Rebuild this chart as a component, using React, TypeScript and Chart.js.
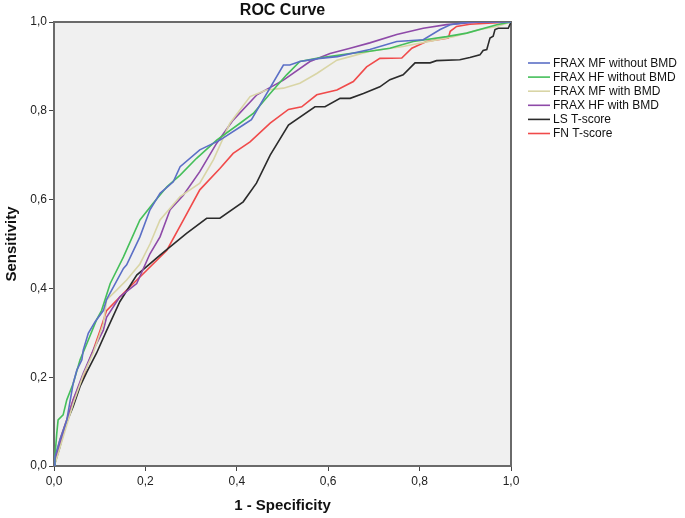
import React, { useEffect, useRef } from "react";
import { Chart, registerables } from "chart.js";

Chart.register(...registerables);

const SERIES_NAMES = [
  "FRAX MF without BMD",
  "FRAX HF without BMD",
  "FRAX MF with BMD",
  "FRAX HF with BMD",
  "LS T-score",
  "FN T-score",
];
const SERIES_COLORS = ["#5b6fc6", "#45bf5a", "#d9d5a6", "#8e4aa8", "#2b2b2b", "#f04a4a"];
const TICK_LABELS = ["0,0", "0,2", "0,4", "0,6", "0,8", "1,0"];

const mfNoBmdX = [0, 0.002, 0.013, 0.028, 0.042, 0.05, 0.061, 0.064, 0.075, 0.09, 0.108, 0.115, 0.152, 0.159, 0.188, 0.21, 0.232, 0.261, 0.276, 0.319, 0.363, 0.414, 0.432, 0.502, 0.516, 0.538, 0.582, 0.62, 0.691, 0.75, 0.808, 0.845, 0.867, 0.91, 1.0];
const mfNoBmdY = [0, 0.02, 0.059, 0.104, 0.186, 0.216, 0.239, 0.261, 0.299, 0.325, 0.35, 0.375, 0.445, 0.453, 0.516, 0.577, 0.614, 0.64, 0.674, 0.712, 0.734, 0.768, 0.78, 0.903, 0.903, 0.911, 0.918, 0.922, 0.938, 0.956, 0.96, 0.983, 0.994, 1.0, 1.0];

const hfNoBmdX = [0, 0.002, 0.006, 0.009, 0.02, 0.028, 0.042, 0.057, 0.072, 0.093, 0.104, 0.123, 0.152, 0.188, 0.217, 0.247, 0.276, 0.312, 0.356, 0.407, 0.436, 0.473, 0.509, 0.538, 0.575, 0.648, 0.691, 0.735, 0.786, 0.859, 0.903, 0.969, 1.0];
const hfNoBmdY = [0, 0.021, 0.073, 0.104, 0.115, 0.149, 0.186, 0.239, 0.276, 0.329, 0.35, 0.411, 0.471, 0.554, 0.592, 0.629, 0.655, 0.693, 0.734, 0.772, 0.794, 0.839, 0.881, 0.911, 0.918, 0.929, 0.934, 0.941, 0.956, 0.967, 0.975, 0.994, 1.0];

const mfBmdX = [0, 0.004, 0.02, 0.042, 0.064, 0.086, 0.108, 0.115, 0.137, 0.159, 0.188, 0.21, 0.232, 0.276, 0.319, 0.349, 0.385, 0.429, 0.465, 0.502, 0.538, 0.575, 0.619, 0.648, 0.691, 0.764, 0.874, 0.932, 0.969, 1.0];
const mfBmdY = [0, 0.01, 0.065, 0.14, 0.205, 0.255, 0.32, 0.374, 0.396, 0.419, 0.455, 0.5, 0.554, 0.607, 0.637, 0.69, 0.772, 0.832, 0.847, 0.851, 0.862, 0.884, 0.914, 0.922, 0.934, 0.945, 0.967, 0.983, 0.99, 1.0];

const hfBmdX = [0, 0.002, 0.02, 0.042, 0.064, 0.086, 0.108, 0.115, 0.144, 0.181, 0.21, 0.232, 0.254, 0.283, 0.319, 0.356, 0.392, 0.444, 0.502, 0.56, 0.604, 0.648, 0.691, 0.75, 0.808, 0.859, 0.93, 1.0];
const hfBmdY = [0, 0.01, 0.073, 0.149, 0.209, 0.261, 0.306, 0.335, 0.381, 0.411, 0.478, 0.516, 0.577, 0.61, 0.663, 0.727, 0.779, 0.836, 0.869, 0.911, 0.929, 0.941, 0.953, 0.972, 0.986, 0.994, 1.0, 1.0];

const lsX = [0, 0.002, 0.013, 0.024, 0.042, 0.057, 0.072, 0.093, 0.115, 0.144, 0.181, 0.232, 0.29, 0.334, 0.363, 0.414, 0.443, 0.473, 0.513, 0.571, 0.593, 0.626, 0.648, 0.677, 0.713, 0.735, 0.764, 0.79, 0.823, 0.837, 0.888, 0.91, 0.932, 0.939, 0.947, 0.95, 0.954, 0.961, 0.965, 0.972, 0.994, 1.0];
const lsY = [0, 0.006, 0.043, 0.089, 0.134, 0.179, 0.212, 0.254, 0.305, 0.37, 0.43, 0.475, 0.524, 0.558, 0.558, 0.595, 0.637, 0.7, 0.768, 0.809, 0.809, 0.828, 0.828, 0.839, 0.854, 0.87, 0.881, 0.908, 0.908, 0.913, 0.915, 0.92, 0.926, 0.936, 0.938, 0.949, 0.964, 0.968, 0.983, 0.986, 0.986, 1.0];

const fnX = [0, 0.002, 0.013, 0.028, 0.042, 0.061, 0.072, 0.086, 0.101, 0.115, 0.152, 0.203, 0.247, 0.283, 0.319, 0.363, 0.392, 0.429, 0.473, 0.513, 0.542, 0.575, 0.619, 0.655, 0.684, 0.713, 0.761, 0.783, 0.815, 0.863, 0.867, 0.881, 0.91, 1.0];
const fnY = [0, 0.014, 0.059, 0.104, 0.149, 0.194, 0.224, 0.261, 0.306, 0.35, 0.389, 0.441, 0.486, 0.554, 0.622, 0.67, 0.704, 0.73, 0.772, 0.803, 0.809, 0.836, 0.847, 0.866, 0.899, 0.918, 0.919, 0.941, 0.956, 0.964, 0.979, 0.99, 0.995, 1.0];

const SERIES_X = [mfNoBmdX, hfNoBmdX, mfBmdX, hfBmdX, lsX, fnX];
const SERIES_Y = [mfNoBmdY, hfNoBmdY, mfBmdY, hfBmdY, lsY, fnY];

const FONT = "'Liberation Sans', Arial, sans-serif";

const decorPlugin = {
  id: "decor",
  beforeDraw(chart: any) {
    const { ctx, chartArea: a } = chart;
    ctx.save();
    ctx.fillStyle = "#ffffff";
    ctx.fillRect(0, 0, chart.width, chart.height);
    ctx.fillStyle = "#f0f0f0";
    ctx.fillRect(a.left, a.top, a.right - a.left, a.bottom - a.top);
    ctx.restore();
  },
  beforeDatasetsDraw(chart: any) {
    const { ctx, chartArea: a } = chart;
    ctx.save();
    ctx.strokeStyle = "#6a6a6a";
    ctx.lineWidth = 2;
    ctx.strokeRect(a.left, a.top, a.right - a.left, a.bottom - a.top);
    ctx.restore();
  },
  afterDraw(chart: any) {
    const { ctx, chartArea: a } = chart;
    ctx.save();
    ctx.fillStyle = "#111";
    ctx.font = `bold 16px ${FONT}`;
    ctx.textAlign = "center";
    ctx.textBaseline = "middle";
    ctx.fillText("ROC Curve", (a.left + a.right) / 2, 11);
    ctx.font = `12px ${FONT}`;
    ctx.textAlign = "left";
    const lx = 528;
    SERIES_NAMES.forEach((name, i) => {
      const y = 63 + i * 14.1;
      ctx.strokeStyle = SERIES_COLORS[i];
      ctx.lineWidth = 1.6;
      ctx.beginPath();
      ctx.moveTo(lx, y);
      ctx.lineTo(lx + 22, y);
      ctx.stroke();
      ctx.fillStyle = "#111";
      ctx.fillText(name, lx + 25, y + 0.5);
    });
    ctx.restore();
  },
};

export default function App() {
  const ref = useRef<HTMLCanvasElement | null>(null);
  useEffect(() => {
    if (!ref.current) return;
    const datasets = SERIES_NAMES.map((name, i) => ({
      label: name,
      data: SERIES_X[i].map((x, j) => ({ x, y: SERIES_Y[i][j] })),
      borderColor: SERIES_COLORS[i],
      backgroundColor: SERIES_COLORS[i],
      borderWidth: 1.6,
      pointRadius: 0,
      showLine: true,
      tension: 0,
      fill: false,
    }));
    const tickFmt = (v: any) => TICK_LABELS[Math.round(Number(v) * 5)] ?? "";
    const chart = new Chart(ref.current, {
      type: "scatter",
      data: { datasets },
      plugins: [decorPlugin],
      options: {
        animation: false,
        responsive: false,
        layout: { padding: { top: 22, right: 174, left: 0, bottom: 0 } },
        plugins: { legend: { display: false }, title: { display: false }, tooltip: { enabled: false } },
        scales: {
          x: {
            type: "linear",
            min: 0,
            max: 1,
            afterFit: (s: any) => { s.height = 52; },
            ticks: { stepSize: 0.2, callback: tickFmt, color: "#222", font: { family: FONT, size: 12 }, padding: 3, maxRotation: 0 },
            grid: { display: true, drawOnChartArea: false, drawTicks: true, tickLength: 5, color: "#444", lineWidth: 1 },
            border: { display: false },
            title: { display: true, text: "1 - Specificity", color: "#111", font: { family: FONT, size: 15, weight: "bold" }, padding: { top: 0, bottom: 3 } },
          },
          y: {
            type: "linear",
            min: 0,
            max: 1,
            afterFit: (s: any) => { s.width = 54; },
            ticks: { stepSize: 0.2, callback: tickFmt, color: "#222", font: { family: FONT, size: 12 }, padding: 2 },
            grid: { display: true, drawOnChartArea: false, drawTicks: true, tickLength: 5, color: "#444", lineWidth: 1 },
            border: { display: false },
            title: { display: true, text: "Sensitivity", color: "#111", font: { family: FONT, size: 15, weight: "bold" }, padding: { top: 3, bottom: 0 } },
          },
        },
      } as any,
    });
    return () => chart.destroy();
  }, []);
  return (
    <div style={{ position: "fixed", left: 0, top: 0, width: 685, height: 518, background: "#fff" }}>
      <canvas ref={ref} width={685} height={518} />
    </div>
  );
}
